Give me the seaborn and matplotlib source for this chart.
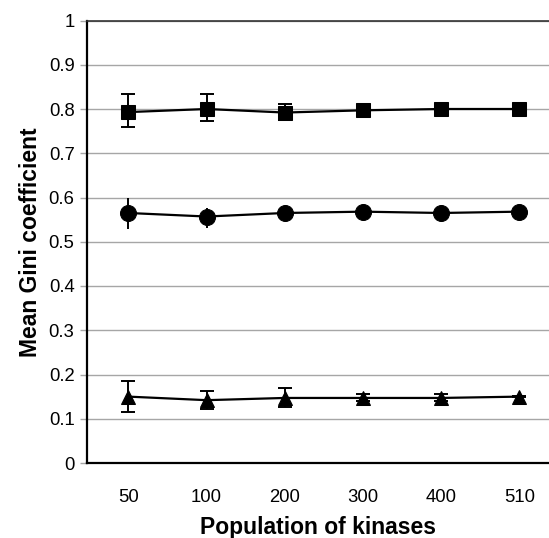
import matplotlib
matplotlib.use("Agg")
import matplotlib.pyplot as plt
import seaborn as sns
import pandas as pd
import numpy as np

populations = ["50", "100", "200", "300", "400", "510"]
square_mean = [0.793, 0.800, 0.792, 0.797, 0.800, 0.800]
square_up = [0.835, 0.835, 0.812, 0.800, 0.802, 0.802]
square_lo = [0.760, 0.772, 0.775, 0.794, 0.798, 0.798]
circle_mean = [0.565, 0.557, 0.565, 0.568, 0.565, 0.568]
circle_up = [0.600, 0.576, 0.568, 0.570, 0.567, 0.570]
circle_lo = [0.528, 0.532, 0.562, 0.566, 0.563, 0.566]
tri_mean = [0.150, 0.142, 0.147, 0.147, 0.147, 0.150]
tri_up = [0.185, 0.162, 0.170, 0.155, 0.155, 0.151]
tri_lo = [0.115, 0.123, 0.127, 0.140, 0.140, 0.149]
y_ticks = [0, 0.1, 0.2, 0.3, 0.4, 0.5, 0.6, 0.7, 0.8, 0.9, 1]
y_tick_labels = ["0", "0.1", "0.2", "0.3", "0.4", "0.5", "0.6", "0.7", "0.8", "0.9", "1"]

sns.set_style("white")
plt.rcParams['font.family'] = ['Liberation Sans', 'DejaVu Sans']
plt.rcParams['text.color'] = 'black'
plt.rcParams['axes.labelcolor'] = 'black'
plt.rcParams['xtick.color'] = 'black'
plt.rcParams['ytick.color'] = 'black'

series = {
    "square": (square_mean, square_lo, square_up, "s", 10.5, 5),
    "circle": (circle_mean, circle_lo, circle_up, "o", 11.5, 0),
    "triangle": (tri_mean, tri_lo, tri_up, "^", 10.5, 5),
}

rows = []
for name, (m, lo, up, mk, ms, cs) in series.items():
    for i, v in enumerate(m):
        rows.append({"pos": i, "value": v, "series": name})
df = pd.DataFrame(rows)

fig = plt.figure(figsize=(5.49, 5.38), dpi=100)
ax = fig.add_axes([87/549, 1-463/538, 1-87/549, (463-20.5)/538])

pos = np.arange(len(populations))
for name, (m, lo, up, mk, ms, cs) in series.items():
    m = np.array(m); lo = np.array(lo); up = np.array(up)
    ax.errorbar(pos, m, yerr=[m - lo, up - m], fmt='none', ecolor='black',
                elinewidth=1.4, capsize=cs, capthick=1.4, zorder=3)
    sub = df[df["series"] == name]
    sns.lineplot(data=sub, x="pos", y="value", ax=ax, color='black',
                 marker=mk, markersize=ms, markeredgecolor='black',
                 linewidth=1.6, legend=False, zorder=4)

ax.set_xlim(-0.53, 5.38)
ax.set_ylim(0, 1)
ax.set_xticks(pos)
ax.set_xticklabels(populations, fontsize=13.3, color='black')
ax.set_yticks(y_ticks)
ax.set_yticklabels(y_tick_labels, fontsize=13.3, color='black')
ax.yaxis.grid(True, color='#a6a6a6', linewidth=1)
ax.xaxis.grid(False)
ax.set_axisbelow(True)
ax.tick_params(axis='x', length=0, pad=19)
ax.tick_params(axis='y', length=5, color='#a6a6a6', width=1, pad=4, left=True, labelcolor='black')
for s in ['left', 'bottom']:
    ax.spines[s].set_color('black')
    ax.spines[s].set_linewidth(1.6)
ax.spines['top'].set_visible(True)
ax.spines['top'].set_color('#333333')
ax.spines['top'].set_linewidth(1.2)
ax.spines['right'].set_visible(False)
ax.set_xlabel("Population of kinases", fontsize=16.5, fontweight='bold', labelpad=7, color='black')
ax.set_ylabel("Mean Gini coefficient", fontsize=16.5, fontweight='bold', labelpad=5, color='black')

fig.savefig("out.png", dpi=100)
